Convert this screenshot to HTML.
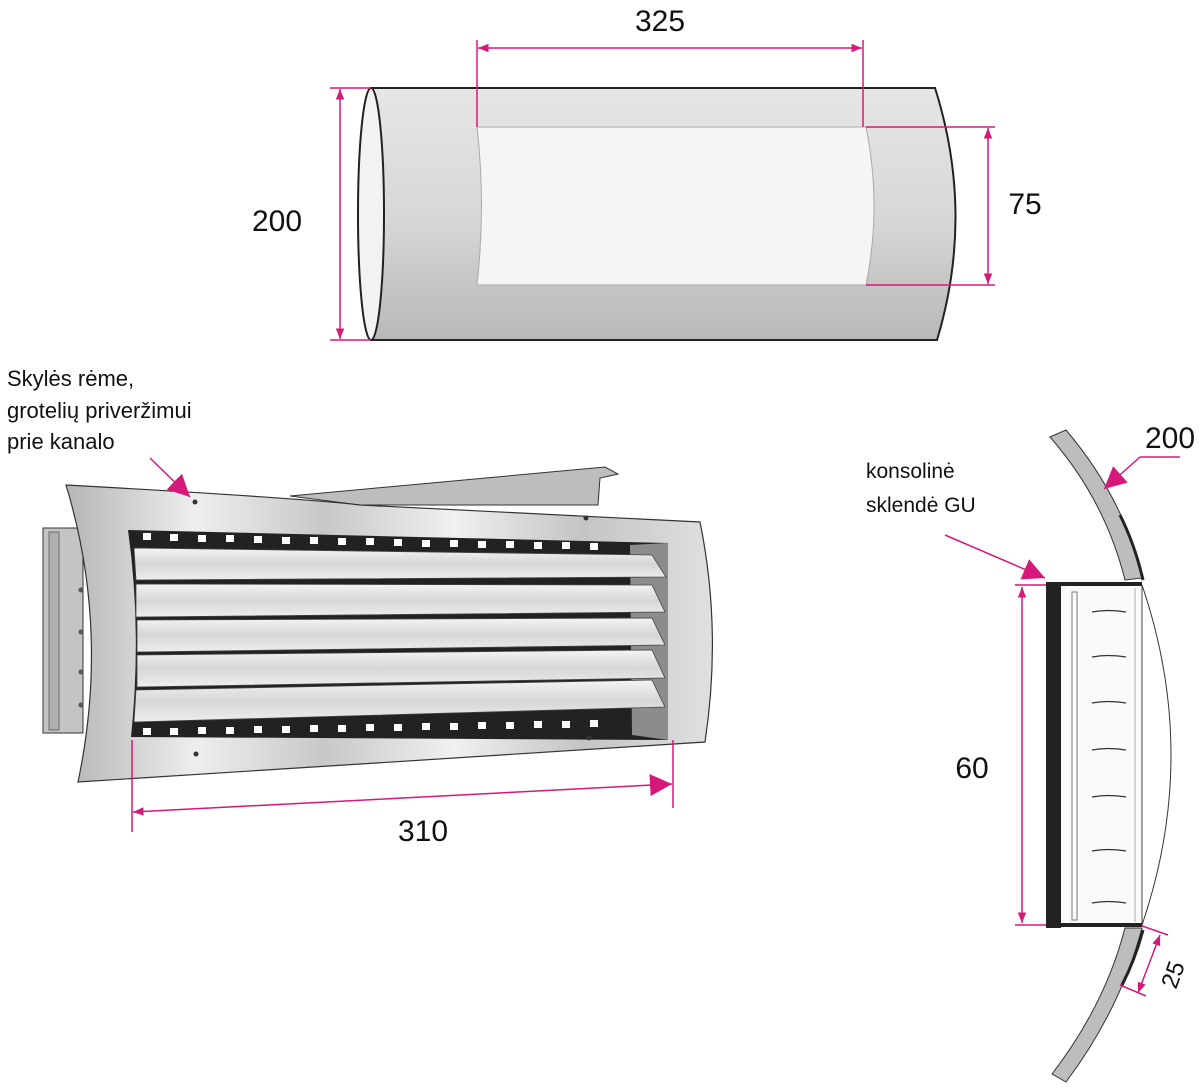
<!DOCTYPE html>
<html><head><meta charset="utf-8"><style>
html,body{margin:0;padding:0;background:#fff;}
svg{display:block;}
text{font-family:"Liberation Sans",sans-serif;fill:#111;}
</style></head><body>
<svg width="1200" height="1090" viewBox="0 0 1200 1090" xmlns="http://www.w3.org/2000/svg">
<defs>
<linearGradient id="cyl" x1="0" y1="0" x2="0" y2="1">
<stop offset="0" stop-color="#e6e6e6"/><stop offset="0.5" stop-color="#d8d8d8"/><stop offset="1" stop-color="#b8b8b8"/></linearGradient>
<linearGradient id="frame" x1="0" y1="0" x2="1" y2="0">
<stop offset="0" stop-color="#b5b5b5"/><stop offset="0.2" stop-color="#eeeeee"/><stop offset="0.4" stop-color="#c8c8c8"/><stop offset="0.6" stop-color="#f0f0f0"/><stop offset="0.8" stop-color="#c4c4c4"/><stop offset="1" stop-color="#e0e0e0"/></linearGradient>
<linearGradient id="slat" x1="0" y1="0" x2="0" y2="1">
<stop offset="0" stop-color="#f4f4f4"/><stop offset="0.5" stop-color="#d6d6d6"/><stop offset="1" stop-color="#eeeeee"/></linearGradient>
<marker id="ah" viewBox="0 0 10 10" refX="10" refY="5" markerWidth="7" markerHeight="7" orient="auto-start-reverse"><path d="M0,1 L10,5 L0,9 z" fill="#d6187a"/></marker>
<marker id="big" viewBox="0 0 10 10" refX="10" refY="5" markerUnits="userSpaceOnUse" markerWidth="22" markerHeight="22" orient="auto"><path d="M0,0 L10,5 L0,10 z" fill="#d6187a"/></marker>
</defs>

<!-- Top cylinder -->
<path d="M371,88 L935,88 Q975,214 937,340 L371,340 Z" fill="url(#cyl)" stroke="#222" stroke-width="2"/>
<path d="M477,127 L866,127 Q882,206 866,285 L477,285 Q486,206 477,127 Z" fill="#f5f5f5" stroke="#aaa" stroke-width="1"/>
<ellipse cx="371" cy="214" rx="13" ry="126" fill="#f2f2f2" stroke="#222" stroke-width="2"/>
<g stroke="#d6187a" stroke-width="1.5" fill="none">
<line x1="477" y1="40" x2="477" y2="127"/><line x1="863" y1="40" x2="863" y2="127"/>
<line x1="478" y1="48" x2="862" y2="48" marker-start="url(#ah)" marker-end="url(#ah)"/>
<line x1="330" y1="88" x2="371" y2="88"/><line x1="330" y1="340" x2="371" y2="340"/>
<line x1="340" y1="89" x2="340" y2="339" marker-start="url(#ah)" marker-end="url(#ah)"/>
<line x1="866" y1="127" x2="995" y2="127"/><line x1="866" y1="285" x2="995" y2="285"/>
<line x1="988" y1="128" x2="988" y2="284" marker-start="url(#ah)" marker-end="url(#ah)"/>
</g>
<text x="660" y="31" font-size="30" text-anchor="middle">325</text>
<text x="277" y="231" font-size="30" text-anchor="middle">200</text>
<text x="1025" y="214" font-size="30" text-anchor="middle">75</text>

<!-- Labels -->
<text x="7" y="386" font-size="22">Skylės rėme,</text>
<text x="7" y="418" font-size="22">grotelių priveržimui</text>
<text x="7" y="449" font-size="22">prie kanalo</text>

<!-- Grille -->
<polygon points="290,496 605,467 618,474 600,478 598,505 360,505" fill="#bdbdbd" stroke="#333" stroke-width="1"/>
<rect x="43" y="528" width="40" height="205" fill="#c4c4c4" stroke="#333"/>
<rect x="49" y="532" width="10" height="198" fill="#b0b0b0" stroke="#555" stroke-width="0.8"/>
<g fill="#555"><circle cx="81" cy="590" r="2.5"/><circle cx="81" cy="632" r="2.5"/><circle cx="81" cy="672" r="2.5"/><circle cx="81" cy="705" r="2.5"/></g>
<path d="M66,485 Q300,498 360,505 L700,522 Q722,630 705,742 L78,782 Q110,630 66,485 Z" fill="url(#frame)" stroke="#333" stroke-width="1.2"/>
<path d="M128,530 L668,543 L668,740 L131,737 Q142,630 128,530 Z" fill="#222"/>
<path d="M630,545 L668,543 L668,740 L632,735 Z" fill="#8c8c8c"/>
<g fill="#fff">
<rect x="143" y="533" width="8" height="7"/><rect x="170" y="534" width="8" height="7"/><rect x="198" y="535" width="8" height="7"/><rect x="226" y="535" width="8" height="7"/><rect x="254" y="536" width="8" height="7"/><rect x="282" y="537" width="8" height="7"/><rect x="310" y="537" width="8" height="7"/><rect x="338" y="538" width="8" height="7"/><rect x="366" y="538" width="8" height="7"/><rect x="394" y="539" width="8" height="7"/><rect x="422" y="540" width="8" height="7"/><rect x="450" y="540" width="8" height="7"/><rect x="478" y="541" width="8" height="7"/><rect x="506" y="541" width="8" height="7"/><rect x="534" y="542" width="8" height="7"/><rect x="562" y="542" width="8" height="7"/><rect x="590" y="543" width="8" height="7"/>
<rect x="143" y="728" width="8" height="7"/><rect x="170" y="728" width="8" height="7"/><rect x="198" y="727" width="8" height="7"/><rect x="226" y="727" width="8" height="7"/><rect x="254" y="726" width="8" height="7"/><rect x="282" y="726" width="8" height="7"/><rect x="310" y="725" width="8" height="7"/><rect x="338" y="725" width="8" height="7"/><rect x="366" y="724" width="8" height="7"/><rect x="394" y="724" width="8" height="7"/><rect x="422" y="723" width="8" height="7"/><rect x="450" y="723" width="8" height="7"/><rect x="478" y="722" width="8" height="7"/><rect x="506" y="722" width="8" height="7"/><rect x="534" y="721" width="8" height="7"/><rect x="562" y="721" width="8" height="7"/><rect x="590" y="720" width="8" height="7"/>
</g>
<g fill="url(#slat)" stroke="#444" stroke-width="0.8">
<path d="M134,548 L652,555 L666,577 L136,580 Z"/>
<path d="M136,584 L652,585 L665,612 L136,617 Z"/>
<path d="M137,620 L652,618 L665,645 L137,652 Z"/>
<path d="M137,655 L652,650 L665,678 L137,687 Z"/>
<path d="M136,690 L652,680 L665,707 L134,722 Z"/>
</g>
<g fill="#333"><circle cx="195" cy="502" r="2.5"/><circle cx="586" cy="518" r="2.5"/><circle cx="196" cy="754" r="2.5"/><circle cx="589" cy="738" r="2.5"/></g>
<line x1="150" y1="458" x2="190" y2="497" stroke="#d6187a" stroke-width="1.5" marker-end="url(#big)"/>
<g stroke="#d6187a" stroke-width="1.5" fill="none">
<line x1="132" y1="740" x2="132" y2="832"/><line x1="673" y1="740" x2="673" y2="808"/>
<line x1="133" y1="812" x2="672" y2="784" marker-start="url(#ah)" marker-end="url(#big)"/>
</g>
<text x="423" y="841" font-size="30" text-anchor="middle">310</text>

<!-- Right section -->
<path d="M1050,437 L1066,430 Q1125,500 1142,578 L1125,580 Q1105,500 1050,437 Z" fill="#bdbdbd" stroke="#333" stroke-width="1"/>
<path d="M1120,515 Q1135,545 1143,580" stroke="#222" stroke-width="3" fill="none"/>
<path d="M1125,928 L1142,928 Q1120,1010 1066,1082 L1052,1074 Q1105,1005 1125,928 Z" fill="#bdbdbd" stroke="#333" stroke-width="1"/>
<path d="M1143,930 Q1135,960 1122,985" stroke="#222" stroke-width="3" fill="none"/>
<path d="M1142,585 Q1200,755 1142,925" stroke="#333" stroke-width="1" fill="none"/>
<rect x="1053" y="585" width="89" height="340" fill="#fafafa" stroke="#444" stroke-width="1"/>
<rect x="1046" y="582" width="15" height="346" fill="#222"/>
<line x1="1046" y1="584" x2="1142" y2="584" stroke="#222" stroke-width="4"/>
<line x1="1046" y1="925" x2="1142" y2="925" stroke="#222" stroke-width="4"/>
<rect x="1072" y="592" width="5" height="328" fill="#fff" stroke="#777" stroke-width="1"/>
<line x1="1135" y1="588" x2="1135" y2="922" stroke="#aaa" stroke-width="1"/>
<g stroke="#333" stroke-width="1.2" fill="none">
<path d="M1092,612 Q1108,609 1126,612"/><path d="M1092,657 Q1108,654 1126,657"/><path d="M1092,703 Q1108,700 1126,703"/><path d="M1092,750 Q1108,747 1126,750"/><path d="M1092,797 Q1108,794 1126,797"/><path d="M1092,851 Q1108,848 1126,851"/><path d="M1092,903 Q1108,900 1126,903"/>
</g>
<g stroke="#d6187a" stroke-width="1.5" fill="none">
<line x1="1015" y1="585" x2="1046" y2="585"/><line x1="1015" y1="925" x2="1046" y2="925"/>
<line x1="1022" y1="587" x2="1022" y2="923" marker-start="url(#ah)" marker-end="url(#ah)"/>
<line x1="1180" y1="457" x2="1140" y2="457"/>
<line x1="1140" y1="457" x2="1104" y2="489" marker-end="url(#big)"/>
<line x1="945" y1="535" x2="1045" y2="578" marker-end="url(#big)"/>
<line x1="1142" y1="926" x2="1168" y2="935"/><line x1="1120" y1="985" x2="1146" y2="996"/>
<line x1="1160" y1="935" x2="1138" y2="993" marker-start="url(#ah)" marker-end="url(#ah)"/>
</g>
<text x="1145" y="448" font-size="30">200</text>
<text x="866" y="478" font-size="21">konsolinė</text>
<text x="866" y="512" font-size="21">sklendė GU</text>
<text x="972" y="778" font-size="30" text-anchor="middle">60</text>
<text x="0" y="0" font-size="24" transform="translate(1176,990) rotate(-70)">25</text>
</svg>
</body></html>
